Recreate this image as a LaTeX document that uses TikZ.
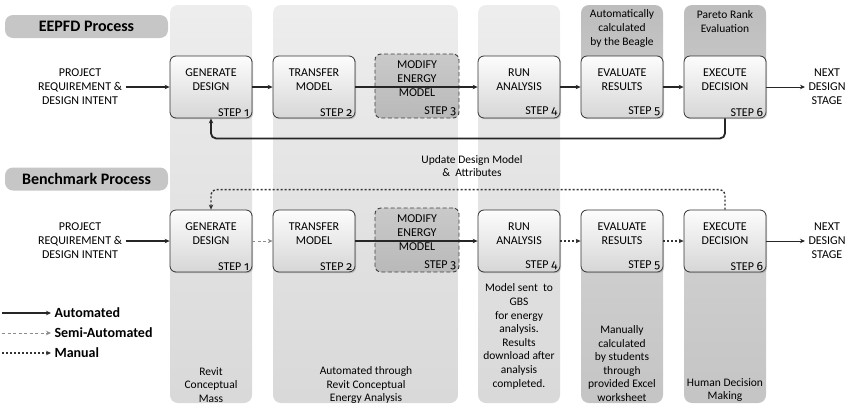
\documentclass[tikz,border=0pt]{standalone}
\usepackage{fontspec}
\setmainfont{Carlito}
\newfontfamily\stepnum[Numbers=OldStyle]{Fira Sans}
\usetikzlibrary{arrows.meta,shadows}

\tikzset{
  >={Stealth[length=5pt,width=4.5pt]},
  colpale/.style={rounded corners=8pt, top color=gray!14, bottom color=gray!30},
  coldark/.style={rounded corners=8pt, top color=gray!52, bottom color=gray!40},
  coldarklow/.style={rounded corners=8pt, top color=gray!36, bottom color=gray!46},
  pill/.style={rounded corners=8pt, fill=gray!45, minimum width=163pt, minimum height=23pt,
    font=\fontsize{16}{18}\selectfont\bfseries},
  stepbox/.style={draw=black!80, line width=0.8pt, rounded corners=6pt,
    minimum width=82pt, minimum height=62pt, top color=gray!2, bottom color=gray!32,
    drop shadow={shadow xshift=1.2pt, shadow yshift=-1.2pt, opacity=0.35}},
  modbox/.style={draw=black!75, line width=0.9pt, dash pattern=on 4pt off 2.5pt, rounded corners=6pt,
    minimum width=84pt, minimum height=64pt, top color=gray!42, bottom color=gray!55},
  boxtext/.style={align=center, font=\fontsize{12}{14}\selectfont},
  steptag/.style={anchor=south east, inner sep=1pt, font=\fontsize{12}{14}\selectfont},
  note/.style={align=center, font=\fontsize{11.5}{13.6}\selectfont},
  legtext/.style={anchor=west, font=\fontsize{14}{16}\selectfont\bfseries},
  automated/.style={->, draw=black!85, line width=1.1pt},
  semiauto/.style={->, draw=black!45, line width=0.9pt, dash pattern=on 3pt off 2.5pt},
  manual/.style={->, draw=black!80, line width=1.4pt, dash pattern=on 2pt off 2pt},
}

\begin{document}
\begin{tikzpicture}[x=1pt,y=-1pt]
  \useasboundingbox (0,0) rectangle (848,405);

  % step columns running behind both processes
  \shade[colpale] (170,5) rectangle (252,403);
  \shade[colpale] (273,5) rectangle (458,403);
  \shade[colpale] (478,5) rectangle (560,403);
  \foreach \x in {581,684} {
    \shade[coldark] (\x,5) rectangle ++(82,110);
    \shade[coldarklow] (\x,215) rectangle (\x+82,403);
  }

  % process headers
  \node[pill] (eepfd) at (86.5,26.5) {EEPFD Process};
  \node[pill] (bench) at (86.5,179) {Benchmark Process};

  % six steps per process: t = EEPFD, b = benchmark
  \foreach \r/\y in {t/87,b/241} {
    \node[stepbox] (\r1) at (211,\y) {};
    \node[stepbox] (\r2) at (314,\y) {};
    \node[modbox] (\r3) at (417,\y-1) {};
    \node[stepbox] (\r4) at (519,\y) {};
    \node[stepbox] (\r5) at (622,\y) {};
    \node[stepbox] (\r6) at (725,\y) {};
    \foreach \i/\txt in {1/{GENERATE\\DESIGN},2/{TRANSFER\\MODEL},3/{MODIFY\\ENERGY\\MODEL},
                         4/{RUN\\ANALYSIS},5/{EVALUATE\\RESULTS},6/{EXECUTE\\DECISION}} {
      \node[boxtext] (\r\i-lbl) at ([yshift=7pt]\r\i.center) {\txt};
      \node[steptag] (\r\i-step) at ([xshift=-2pt,yshift=1pt]\r\i.south east) {STEP {\stepnum\i}};
    }
    \node[boxtext] (\r-in) at (80,\y) {PROJECT\\REQUIREMENT \&\\DESIGN INTENT};
    \node[boxtext] (\r-out) at (827,\y) {NEXT\\DESIGN\\STAGE};
  }

  % EEPFD flow
  \draw[automated] (t-in) -- (t1);
  \draw[automated] (t1) -- (t2);
  \draw[automated,line width=1.3pt] (t2) -- (t4);
  \draw[automated] (t4) -- (t5);
  \draw[automated] (t5) -- (t6);
  \draw[automated,line width=0.8pt] (t6) -- (t-out);
  \draw[automated,line width=1.8pt,rounded corners=5pt] (t6.south) -- ++(0,20) -| (t1.south);
  \node[note] (upd) at (472,166) {Update Design Model\\\&~ Attributes};

  % benchmark flow
  \draw[automated] (b-in) -- (b1);
  \draw[semiauto] (b1) -- (b2);
  \draw[automated,line width=1.3pt] (b2) -- (b4);
  \draw[manual] (b4) -- (b5);
  \draw[manual] (b5) -- (b6);
  \draw[automated,line width=0.8pt] (b6) -- (b-out);
  \draw[manual,rounded corners=5pt] (b6.north) -- ++(0,-20) -| (b1.north);

  % notes in the columns
  \node[note] (n5top) at (622,28.5) {Automatically\\calculated\\by the Beagle};
  \node[note] (n6top) at (725,21.5) {Pareto Rank\\Evaluation};
  \node[note] (n1) at (211,385) {Revit\\Conceptual\\Mass};
  \node[note] (n2) at (366,385) {Automated through\\Revit Conceptual\\Energy Analysis};
  \node[note] (n4) at (519,336.5) {Model sent~ to\\GBS\\for energy\\analysis.\\Results\\download after\\analysis\\completed.};
  \node[note] (n5) at (622,363.5) {Manually\\calculated\\by students\\through\\provided Excel\\worksheet};
  \node[note] (n6) at (725,390) {Human Decision\\Making};

  % legend
  \node[legtext] (lauto) at (51,313) {Automated};
  \node[legtext] (lsemi) at (51,333) {Semi-Automated};
  \node[legtext] (lman) at (51,353) {Manual};
  \coordinate (la) at (2,313);
  \coordinate (ls) at (2,333);
  \coordinate (lm) at (2,353);
  \draw[automated] (la) -- (lauto);
  \draw[semiauto] (ls) -- (lsemi);
  \draw[manual] (lm) -- (lman);
\end{tikzpicture}
\end{document}
